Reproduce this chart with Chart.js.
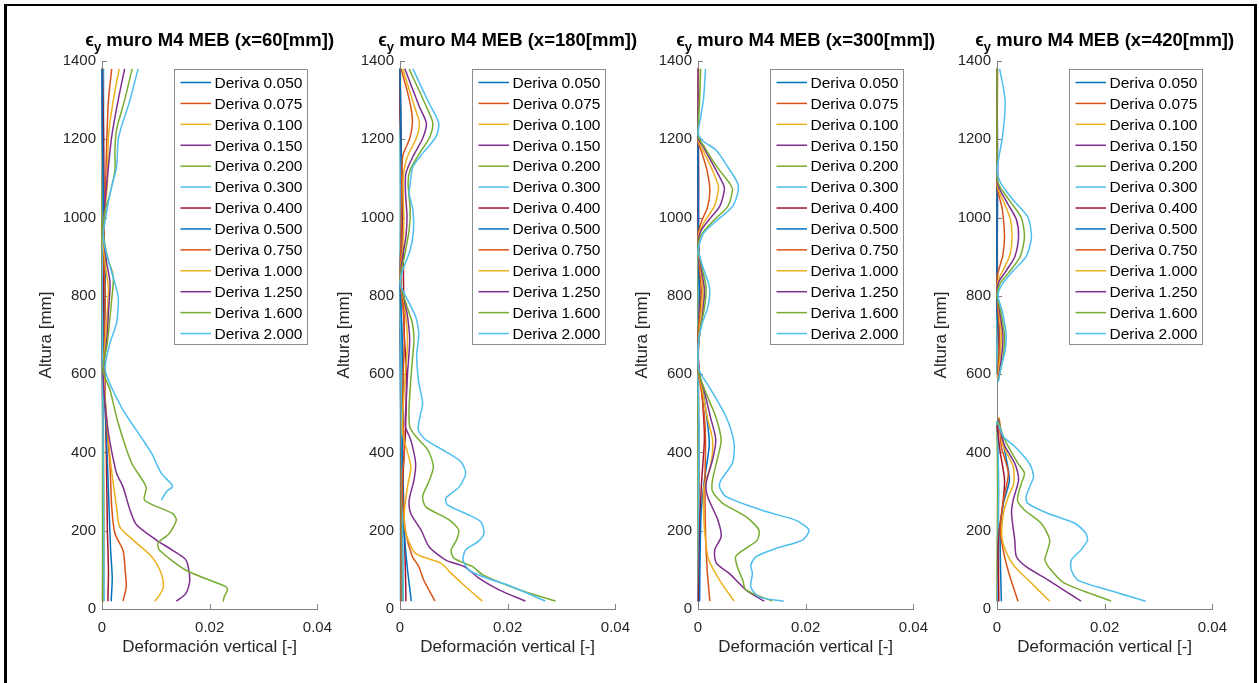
<!DOCTYPE html>
<html lang="es">
<head>
<meta charset="utf-8">
<title>Deformación vertical muro M4 MEB</title>
<script src="https://cdn.jsdelivr.net/npm/chart.js@4.4.0/dist/chart.umd.min.js"></script>
<style>
  html, body { margin: 0; padding: 0; background: #fff; }
  #page { position: relative; width: 1259px; height: 683px; overflow: hidden; }
  #marco { position: absolute; left: 4px; top: 4px; width: 1247px; height: 720px;
           border-left: 3px solid #000; border-top: 2px solid #000; border-right: 3px solid #000; }
  .panel { position: absolute; top: 0; width: 320px; height: 683px; }
</style>
</head>
<body>
<div id="page">
  <div id="marco"></div>
  <div class="panel" style="left:22px"><canvas id="c60" width="320" height="683"></canvas></div>
  <div class="panel" style="left:320px"><canvas id="c180" width="320" height="683"></canvas></div>
  <div class="panel" style="left:618px"><canvas id="c300" width="320" height="683"></canvas></div>
  <div class="panel" style="left:917px"><canvas id="c420" width="320" height="683"></canvas></div>
</div>
<script>
// Drift levels, MATLAB default colour order, section positions and ticks
const derivas = ['0.050', '0.075', '0.100', '0.150', '0.200', '0.300', '0.400', '0.500', '0.750', '1.000', '1.250', '1.600', '2.000'];
const colores = ['#0072BD', '#D95319', '#EDB120', '#7E2F8E', '#77AC30', '#4DBEEE', '#A2142F'];
const posiciones = [60, 180, 300, 420];
const ticksX = [0, 0.02, 0.04];
const ticksY = [0, 200, 400, 600, 800, 1000, 1200, 1400];

// Each curve: [strain, height mm] from top to bottom; null = break in the line
const x60 = [
  [[0.0000,1310],[0.0001,1150],[0.0001,950],[0.0000,750],[0.0001,550],[0.0002,350],[0.0002,150],[0.0002,20]],
  [[0.0001,1380],[0.0001,1150],[0.0000,950],[0.0001,750],[0.0001,550],[0.0002,350],[0.0003,150],[0.0002,20]],
  [[0.0002,1380],[0.0002,1200],[0.0001,1000],[0.0001,800],[0.0002,600],[0.0003,400],[0.0004,200],[0.0003,20]],
  [[0.0000,1380],[0.0001,1200],[0.0001,1000],[0.0000,800],[0.0001,600],[0.0002,400],[0.0002,200],[0.0001,20]],
  [[0.0001,1380],[0.0001,1200],[0.0000,1000],[0.0000,800],[0.0001,600],[0.0001,400],[0.0001,200],[0.0001,20]],
  [[0.0003,1380],[0.0003,1250],[0.0002,1050],[0.0001,850],[0.0001,650],[0.0002,450],[0.0003,250],[0.0004,20]],
  [[0.0001,1380],[0.0003,1200],[0.0004,1000],[0.0003,800],[0.0005,600],[0.0008,400],[0.0010,200],[0.0012,100],[0.0011,20]],
  [[0.0000,1380],[0.0001,1200],[0.0003,1000],[0.0006,850],[0.0004,700],[0.0003,600],[0.0008,450],[0.0012,300],[0.0016,150],[0.0019,80],[0.0017,20]],
  [[0.0018,1380],[0.0012,1300],[0.0009,1200],[0.0006,1050],[0.0003,900],[0.0006,800],[0.0004,650],[0.0003,600],[0.0010,450],[0.0015,364],[0.0018,261],[0.0024,193],[0.0039,150],[0.0043,99],[0.0045,57],[0.0039,20]],
  [[0.0032,1380],[0.0021,1300],[0.0012,1207],[0.0010,1088],[0.0004,1000],[0.0002,940],[0.0008,860],[0.0012,820],[0.0008,720],[0.0003,620],[0.0008,500],[0.0015,389],[0.0020,330],[0.0027,261],[0.0033,210],[0.0058,176],[0.0092,134],[0.0110,91],[0.0114,57],[0.0107,36],[0.0098,20]],
  [[0.0042,1380],[0.0030,1300],[0.0018,1207],[0.0012,1130],[0.0006,1045],[0.0002,970],[0.0008,890],[0.0015,832],[0.0012,760],[0.0010,705],[0.0004,630],[0.0002,600],[0.0006,520],[0.0012,449],[0.0020,389],[0.0027,347],[0.0039,312],[0.0052,253],[0.0064,215],[0.0101,176],[0.0131,150],[0.0156,125],[0.0163,74],[0.0156,40],[0.0138,20]],
  [[0.0056,1380],[0.0042,1300],[0.0027,1224],[0.0024,1173],[0.0024,1121],[0.0015,1062],[0.0006,1019],[0.0002,968],[0.0010,900],[0.0021,849],[0.0018,790],[0.0015,747],[0.0010,680],[0.0002,610],[0.0015,559],[0.0030,475],[0.0055,373],[0.0082,312],[0.0079,278],[0.0131,244],[0.0138,227],[0.0125,193],[0.0104,168],[0.0107,150],[0.0156,99],[0.0230,57],[0.0233,49],[0.0227,31],[0.0225,19]],
  [[0.0067,1380],[0.0052,1300],[0.0036,1232],[0.0030,1198],[0.0027,1130],[0.0015,1062],[0.0007,1002],[0.0002,951],[0.0008,910],[0.0015,875],[0.0030,800],[0.0030,772],[0.0027,730],[0.0015,680],[0.0006,610],[0.0036,516],[0.0076,432],[0.0092,398],[0.0110,347],[0.0131,314],[0.0120,300],[0.0110,278]]
];

const x180 = [
  [[0.0000,1380],[0.0001,1150],[0.0001,900],[0.0000,700],[0.0001,500],[0.0001,300],[0.0001,100],[0.0001,20]],
  [[0.0000,1380],[0.0001,1200],[0.0002,950],[0.0001,700],[0.0002,500],[0.0002,300],[0.0002,100],[0.0002,20]],
  [[0.0001,1380],[0.0001,1200],[0.0002,1000],[0.0001,800],[0.0002,600],[0.0003,400],[0.0003,200],[0.0003,20]],
  [[0.0000,1380],[0.0002,1200],[0.0002,1000],[0.0001,800],[0.0002,600],[0.0003,400],[0.0004,200],[0.0004,20]],
  [[0.0000,1380],[0.0001,1200],[0.0001,1000],[0.0001,800],[0.0002,600],[0.0003,400],[0.0004,200],[0.0005,20]],
  [[0.0000,1380],[0.0000,1250],[0.0001,1000],[0.0000,850],[0.0002,650],[0.0003,450],[0.0005,250],[0.0006,20]],
  [[0.0000,1380],[0.0000,1270],[0.0004,1100],[0.0006,900],[0.0008,700],[0.0012,600],[0.0010,450],[0.0006,350],[0.0008,200],[0.0010,100],[0.0011,20]],
  [[0.0000,1380],[0.0002,1200],[0.0003,1000],[0.0000,840],[0.0004,700],[0.0006,500],[0.0004,400],[0.0006,300],[0.0008,193],[0.0014,100],[0.0021,20]],
  [[0.0002,1380],[0.0014,1320],[0.0021,1275],[0.0023,1241],[0.0018,1202],[0.0005,1156],[0.0003,1050],[0.0002,950],[0.0000,845],[0.0005,780],[0.0008,687],[0.0006,600],[0.0005,500],[0.0008,400],[0.0005,347],[0.0005,278],[0.0011,193],[0.0023,134],[0.0035,108],[0.0044,74],[0.0065,20]],
  [[0.0005,1380],[0.0027,1283],[0.0036,1241],[0.0030,1202],[0.0014,1156],[0.0006,1105],[0.0007,1000],[0.0006,930],[0.0000,845],[0.0008,780],[0.0014,687],[0.0010,600],[0.0006,520],[0.0005,449],[0.0020,364],[0.0014,313],[0.0008,244],[0.0011,193],[0.0029,142],[0.0076,117],[0.0095,91],[0.0122,57],[0.0153,20]],
  [[0.0009,1380],[0.0036,1283],[0.0049,1241],[0.0042,1202],[0.0024,1156],[0.0011,1113],[0.0010,1070],[0.0013,1002],[0.0011,951],[0.0005,900],[0.0000,840],[0.0008,790],[0.0014,747],[0.0018,687],[0.0014,602],[0.0011,517],[0.0010,466],[0.0020,432],[0.0029,372],[0.0026,330],[0.0017,278],[0.0020,244],[0.0039,202],[0.0054,159],[0.0085,125],[0.0120,108],[0.0147,78],[0.0184,49],[0.0233,20]],
  [[0.0017,1380],[0.0049,1283],[0.0061,1241],[0.0054,1202],[0.0036,1164],[0.0019,1122],[0.0015,1088],[0.0019,1019],[0.0017,968],[0.0008,900],[0.0000,840],[0.0011,781],[0.0023,730],[0.0026,687],[0.0023,637],[0.0020,585],[0.0017,517],[0.0018,466],[0.0030,440],[0.0052,406],[0.0062,364],[0.0055,330],[0.0042,287],[0.0048,261],[0.0092,227],[0.0109,202],[0.0105,176],[0.0095,151],[0.0100,130],[0.0135,108],[0.0154,87],[0.0221,49],[0.0289,20]],
  [[0.0024,1380],[0.0054,1292],[0.0072,1241],[0.0067,1207],[0.0042,1164],[0.0024,1130],[0.0019,1088],[0.0017,1062],[0.0024,1019],[0.0025,968],[0.0019,917],[0.0005,866],[0.0000,832],[0.0011,798],[0.0029,747],[0.0035,705],[0.0034,687],[0.0031,645],[0.0035,577],[0.0042,526],[0.0037,491],[0.0034,457],[0.0048,432],[0.0085,402],[0.0113,376],[0.0122,347],[0.0110,312],[0.0085,283],[0.0088,266],[0.0122,244],[0.0150,223],[0.0156,193],[0.0145,172],[0.0122,151],[0.0117,125],[0.0128,100],[0.0153,83],[0.0208,57],[0.0270,20]]
];

const x300 = [
  [[0.0000,1380],[0.0000,1100],[0.0001,800],[0.0000,600],[0.0001,400],[0.0001,200],[0.0001,20]],
  [[0.0000,1380],[0.0001,1100],[0.0000,800],[0.0001,600],[0.0001,400],[0.0001,200],[0.0002,20]],
  [[0.0001,1380],[0.0000,1100],[0.0001,800],[0.0000,600],[0.0002,400],[0.0001,200],[0.0001,20]],
  [[0.0000,1380],[0.0001,1100],[0.0001,800],[0.0000,600],[0.0001,400],[0.0001,200],[0.0000,20]],
  [[0.0001,1380],[0.0000,1100],[0.0000,800],[0.0000,600],[0.0000,400],[0.0000,200],[0.0001,20]],
  [[0.0000,1380],[0.0000,1100],[0.0001,800],[0.0000,600],[0.0002,450],[0.0001,300],[0.0001,20]],
  [[0.0000,1380],[0.0000,1000],[0.0003,800],[0.0000,650],[0.0008,540],[0.0012,440],[0.0009,370],[0.0006,310],[0.0003,200],[0.0002,100],[0.0001,20]],
  [[0.0000,1380],[0.0000,1100],[0.0002,850],[0.0004,780],[0.0000,690],[0.0000,620],[0.0010,550],[0.0018,470],[0.0021,420],[0.0012,330],[0.0006,250],[0.0004,150],[0.0003,20]],
  [[0.0000,1380],[0.0000,1195],[0.0006,1170],[0.0016,1125],[0.0022,1071],[0.0018,1028],[0.0008,995],[0.0002,970],[0.0000,945],[0.0003,870],[0.0006,815],[0.0004,760],[0.0000,700],[0.0000,610],[0.0006,560],[0.0012,491],[0.0014,432],[0.0013,330],[0.0014,193],[0.0017,100],[0.0022,20]],
  [[0.0000,1380],[0.0000,1200],[0.0008,1175],[0.0024,1130],[0.0037,1085],[0.0038,1071],[0.0030,1028],[0.0014,994],[0.0003,965],[0.0000,940],[0.0005,870],[0.0009,815],[0.0006,760],[0.0002,700],[0.0000,610],[0.0008,560],[0.0017,491],[0.0027,432],[0.0024,370],[0.0011,310],[0.0011,227],[0.0014,176],[0.0020,125],[0.0040,74],[0.0067,20]],
  [[0.0000,1380],[0.0000,1205],[0.0010,1180],[0.0030,1130],[0.0047,1085],[0.0049,1071],[0.0040,1028],[0.0020,994],[0.0005,965],[0.0000,935],[0.0006,870],[0.0012,815],[0.0009,760],[0.0003,700],[0.0000,650],[0.0000,610],[0.0011,560],[0.0023,491],[0.0033,432],[0.0027,381],[0.0015,321],[0.0018,287],[0.0037,227],[0.0043,185],[0.0031,151],[0.0034,117],[0.0058,91],[0.0089,49],[0.0123,20]],
  [[0.0005,1380],[0.0003,1300],[0.0000,1210],[0.0012,1180],[0.0035,1130],[0.0060,1085],[0.0064,1071],[0.0055,1028],[0.0030,994],[0.0008,960],[0.0000,930],[0.0008,870],[0.0015,820],[0.0012,770],[0.0005,720],[0.0000,660],[0.0000,610],[0.0015,551],[0.0033,491],[0.0043,432],[0.0037,389],[0.0027,330],[0.0027,300],[0.0046,270],[0.0089,236],[0.0113,202],[0.0110,176],[0.0089,155],[0.0070,134],[0.0073,108],[0.0083,74],[0.0089,49],[0.0138,20]],
  [[0.0014,1380],[0.0010,1300],[0.0004,1250],[0.0000,1216],[0.0010,1195],[0.0033,1173],[0.0055,1130],[0.0073,1090],[0.0075,1071],[0.0064,1028],[0.0036,994],[0.0010,960],[0.0003,934],[0.0000,917],[0.0010,870],[0.0020,830],[0.0022,807],[0.0018,770],[0.0008,730],[0.0002,696],[0.0000,650],[0.0002,610],[0.0024,560],[0.0052,491],[0.0067,424],[0.0064,373],[0.0043,330],[0.0040,312],[0.0052,287],[0.0126,249],[0.0181,227],[0.0206,202],[0.0194,176],[0.0145,155],[0.0108,134],[0.0098,112],[0.0101,91],[0.0098,57],[0.0113,31],[0.0159,20]]
];

const x420 = [
  [[0.0000,1380],[0.0001,1100],[0.0000,800],[0.0001,600],null,[0.0001,480],[0.0002,300],[0.0002,100],[0.0002,20]],
  [[0.0001,1380],[0.0000,1100],[0.0001,800],[0.0000,600],null,[0.0002,480],[0.0002,300],[0.0003,100],[0.0003,20]],
  [[0.0000,1380],[0.0000,1100],[0.0000,800],[0.0001,600],null,[0.0001,480],[0.0003,300],[0.0002,100],[0.0002,20]],
  [[0.0000,1380],[0.0001,1100],[0.0000,800],[0.0000,600],null,[0.0001,480],[0.0002,300],[0.0002,100],[0.0001,20]],
  [[0.0000,1380],[0.0000,1100],[0.0000,800],[0.0000,600],null,[0.0000,480],[0.0001,300],[0.0000,100],[0.0000,20]],
  [[0.0000,1380],[0.0000,1100],[0.0000,800],[0.0000,600],null,[0.0000,480],[0.0002,420],[0.0003,300],[0.0002,160],[0.0001,20]],
  [[0.0000,1380],[0.0000,1100],[0.0000,800],[0.0002,720],[0.0004,660],[0.0002,600],null,[0.0000,470],[0.0006,400],[0.0014,330],[0.0011,270],[0.0004,200],[0.0002,150],[0.0003,20]],
  [[0.0000,1380],[0.0000,1100],[0.0000,760],[0.0004,700],[0.0005,650],[0.0002,590],null,[0.0004,480],[0.0012,420],[0.0023,330],[0.0012,270],[0.0006,190],[0.0008,20]],
  [[0.0000,1380],[0.0000,1085],[0.0003,1060],[0.0010,1020],[0.0014,951],[0.0011,905],[0.0004,870],[0.0000,845],[0.0002,760],[0.0005,700],[0.0003,640],[0.0001,590],null,[0.0004,490],[0.0008,415],[0.0021,347],[0.0012,278],[0.0006,202],[0.0014,134],[0.0026,74],[0.0039,20]],
  [[0.0000,1380],[0.0000,1090],[0.0003,1070],[0.0014,1035],[0.0025,995],[0.0028,951],[0.0024,905],[0.0011,865],[0.0002,840],[0.0000,815],[0.0004,760],[0.0008,700],[0.0006,650],[0.0002,590],null,[0.0004,490],[0.0008,440],[0.0012,415],[0.0030,364],[0.0031,321],[0.0021,287],[0.0012,244],[0.0009,185],[0.0018,142],[0.0033,108],[0.0058,74],[0.0098,20]],
  [[0.0000,1380],[0.0000,1095],[0.0004,1075],[0.0020,1035],[0.0036,995],[0.0040,951],[0.0033,900],[0.0016,862],[0.0003,835],[0.0000,810],[0.0005,760],[0.0011,700],[0.0009,650],[0.0003,590],null,[0.0003,485],[0.0009,440],[0.0015,415],[0.0033,372],[0.0040,330],[0.0030,278],[0.0027,244],[0.0033,176],[0.0036,134],[0.0054,108],[0.0095,74],[0.0156,20]],
  [[0.0000,1380],[0.0000,1100],[0.0005,1080],[0.0025,1040],[0.0045,1000],[0.0051,951],[0.0043,900],[0.0022,860],[0.0005,830],[0.0000,800],[0.0007,760],[0.0014,700],[0.0012,650],[0.0005,600],[0.0002,580],null,[0.0002,480],[0.0012,440],[0.0021,415],[0.0039,372],[0.0051,347],[0.0045,320],[0.0038,278],[0.0051,253],[0.0082,219],[0.0098,176],[0.0092,142],[0.0089,125],[0.0100,100],[0.0125,66],[0.0212,20]],
  [[0.0005,1380],[0.0015,1300],[0.0011,1215],[0.0003,1150],[0.0000,1120],[0.0007,1088],[0.0030,1045],[0.0057,1002],[0.0064,951],[0.0054,900],[0.0026,858],[0.0007,824],[0.0002,798],[0.0010,760],[0.0017,700],[0.0015,660],[0.0008,620],[0.0002,580],null,[0.0003,470],[0.0012,440],[0.0033,415],[0.0060,372],[0.0068,338],[0.0064,323],[0.0054,287],[0.0057,270],[0.0095,244],[0.0144,219],[0.0165,193],[0.0168,176],[0.0156,151],[0.0138,125],[0.0138,100],[0.0150,74],[0.0205,49],[0.0276,20]]
];

const curvasPorSeccion = [x60, x180, x300, x420];
const fuente = '"Liberation Sans", Arial, "DejaVu Sans", sans-serif';
const grisEje = '#808080';

// MATLAB-style tick marks pointing into the axes
const marcasInternas = {
  id: 'marcasInternas',
  beforeDatasetsDraw(chart) {
    const { ctx, chartArea: a, scales: { x, y } } = chart;
    ctx.save();
    ctx.strokeStyle = grisEje;
    ctx.lineWidth = 1;
    ctx.beginPath();
    x.ticks.forEach(t => {
      const px = Math.round(x.getPixelForValue(t.value)) + 0.5;
      ctx.moveTo(px, a.bottom);
      ctx.lineTo(px, a.bottom - 5);
    });
    y.ticks.forEach(t => {
      const py = Math.round(y.getPixelForValue(t.value)) + 0.5;
      ctx.moveTo(a.left, py);
      ctx.lineTo(a.left + 5, py);
    });
    ctx.stroke();
    ctx.restore();
  }
};

// title with epsilon and subscript y
const tituloEps = {
  id: 'tituloEps',
  afterDraw(chart, args, opts) {
    const { ctx, chartArea: a } = chart;
    const piezas = [
      { t: '\u03F5', f: `bold 18px ${fuente}`, dy: 0 },
      { t: 'y', f: `bold 13px ${fuente}`, dy: 5 },
      { t: ' ' + opts.texto, f: `bold 18.5px ${fuente}`, dy: 0 }
    ];
    ctx.save();
    ctx.fillStyle = '#000';
    ctx.textBaseline = 'alphabetic';
    let total = 0;
    piezas.forEach(p => { ctx.font = p.f; p.w = ctx.measureText(p.t).width; total += p.w; });
    let xx = (a.left + a.right) / 2 - total / 2;
    piezas.forEach(p => { ctx.font = p.f; ctx.fillText(p.t, xx, 46 + p.dy); xx += p.w; });
    ctx.restore();
  }
};

// boxed legend in the upper right corner of the axes
const leyenda = {
  id: 'leyenda',
  afterDraw(chart) {
    const { ctx, chartArea: a } = chart;
    const w = 133, h = 275, fila = 20.92;
    const bx = Math.round(a.right - 10.5 - w), by = a.top + 8;
    ctx.save();
    ctx.fillStyle = '#fff';
    ctx.fillRect(bx, by, w, h);
    ctx.strokeStyle = '#8c8c8c';
    ctx.lineWidth = 1;
    ctx.strokeRect(bx + 0.5, by + 0.5, w, h);
    ctx.font = `15.5px ${fuente}`;
    ctx.textBaseline = 'middle';
    chart.data.datasets.forEach((ds, i) => {
      const yy = by + 13.5 + i * fila;
      ctx.strokeStyle = ds.borderColor;
      ctx.lineWidth = 1.5;
      ctx.beginPath();
      ctx.moveTo(bx + 6.5, yy);
      ctx.lineTo(bx + 37, yy);
      ctx.stroke();
      ctx.fillStyle = '#000';
      ctx.fillText(ds.label, bx + 40.5, yy + 1);
    });
    ctx.restore();
  }
};

function crearPanel(idx) {
  const pos = posiciones[idx];
  const curvas = curvasPorSeccion[idx];
  const datasets = curvas.map((c, i) => ({
    label: 'Deriva ' + derivas[i],
    data: c.map(p => p ? { x: p[0], y: p[1] } : { x: NaN, y: NaN }),
    showLine: true,
    spanGaps: false,
    borderColor: colores[i % colores.length],
    borderWidth: 1.5,
    pointRadius: 0,
    tension: 0.25,
    fill: false,
    clip: 6,
    order: curvas.length - i
  }));

  new Chart(document.getElementById('c' + pos), {
    type: 'scatter',
    data: { datasets },
    options: {
      responsive: false,
      animation: false,
      devicePixelRatio: 1,
      events: [],
      layout: { padding: { left: 0, right: 23, top: 61, bottom: 0 } },
      plugins: {
        legend: { display: false },
        tooltip: { enabled: false },
        tituloEps: { texto: `muro M4 MEB (x=${pos}[mm])` }
      },
      scales: {
        x: {
          type: 'linear', min: 0, max: 0.04,
          afterBuildTicks: s => { s.ticks = ticksX.map(v => ({ value: v })); },
          afterFit: s => { s.height = 74; },
          grid: { display: false, drawTicks: false },
          border: { display: true, color: grisEje, width: 1 },
          ticks: { color: '#262626', font: { family: fuente, size: 15 }, padding: 10, maxRotation: 0, autoSkip: false,
                   callback: v => String(v) },
          title: { display: true, text: 'Deformación vertical [-]', color: '#262626',
                   font: { family: fuente, size: 17 }, padding: { top: 0, bottom: 25 } }
        },
        y: {
          type: 'linear', min: 0, max: 1400,
          afterBuildTicks: s => { s.ticks = ticksY.map(v => ({ value: v })); },
          afterFit: s => { s.width = 80; },
          grid: { display: false, drawTicks: false },
          border: { display: true, color: grisEje, width: 1 },
          ticks: { color: '#262626', font: { family: fuente, size: 15 }, padding: 6, autoSkip: false,
                   callback: v => String(v) },
          title: { display: true, text: 'Altura [mm]', color: '#262626',
                   font: { family: fuente, size: 17 }, padding: { top: 14, bottom: 0 } }
        }
      }
    },
    plugins: [marcasInternas, tituloEps, leyenda]
  });
}

posiciones.forEach((p, i) => crearPanel(i));
</script>
</body>
</html>
